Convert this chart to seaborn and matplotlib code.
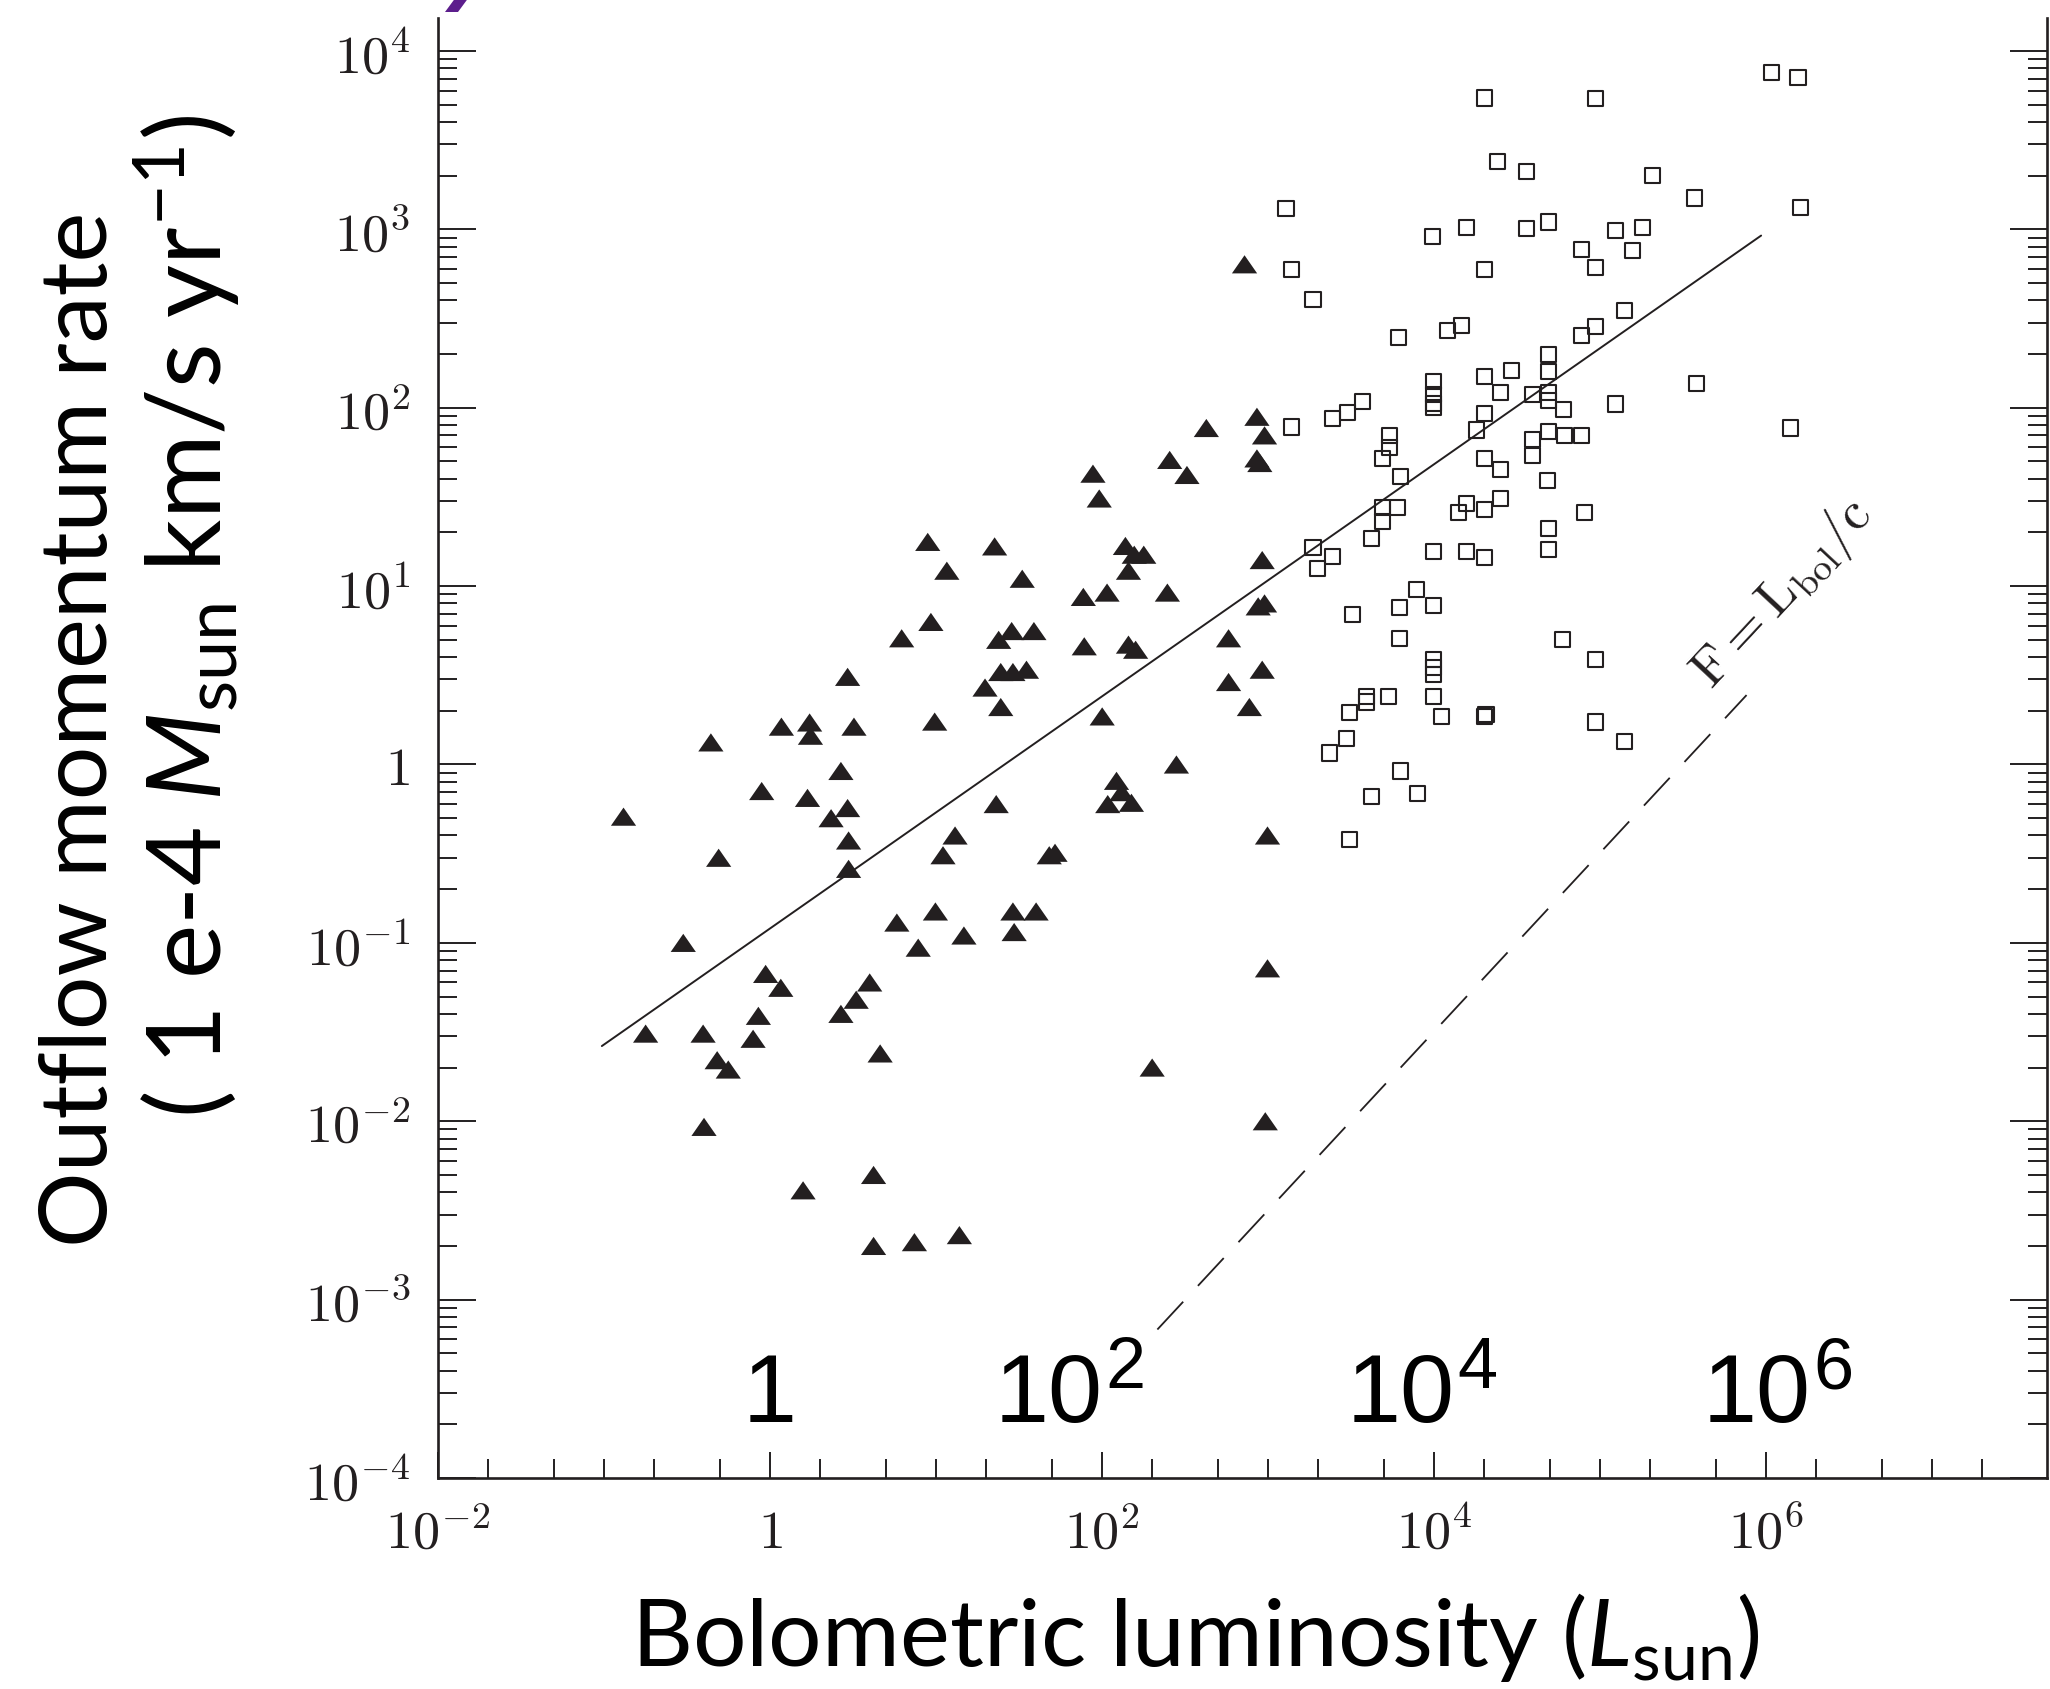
import numpy as np
import matplotlib
matplotlib.use("Agg")
import matplotlib.pyplot as plt
import matplotlib.transforms as mtransforms
from matplotlib.markers import MarkerStyle
from matplotlib.path import Path
from matplotlib.patches import Polygon
from matplotlib.ticker import FixedLocator, NullFormatter
import seaborn as sns

# ---------------- data ----------------
# Low-mass sources (filled triangles): L_bol [L_sun], momentum rate
tri_L = [0.131, 0.178, 0.30, 0.395, 0.40, 0.44, 0.48, 0.49, 0.56, 0.79,
         0.85, 0.89, 0.94, 1.16, 1.17, 1.58, 1.68, 1.73, 1.75, 2.33,
         2.67, 2.67, 2.93, 2.93, 2.97, 2.97, 3.2, 3.3, 3.98, 4.2,
         4.2, 4.6, 5.8, 6.2, 7.4, 7.8, 8.9, 9.3, 9.8, 9.9,
         11, 11.6, 13, 13.8, 14.7, 22.5, 19.7, 23, 23.8, 24.5,
         24.5, 28.5, 29, 29, 29.5, 33, 35, 38.8, 40, 48,
         52, 77, 78, 88, 96, 100, 107, 108, 122, 131,
         138, 144, 144, 150, 156, 159, 178, 200, 247, 255,
         280, 324, 424, 577, 577, 720, 770, 855, 855, 870,
         920, 890, 920, 950, 950, 990, 990, 960]
tri_P = [0.51, 0.031, 0.10, 0.031, 0.0093, 1.33, 0.022, 0.30, 0.0195, 0.029,
         0.039, 0.71, 0.067, 0.056, 1.63, 0.0041, 0.65, 1.72, 1.45, 0.50,
         0.92, 0.040, 3.1, 0.57, 0.375, 0.26, 1.63, 0.048, 0.060, 0.0050,
         0.0020, 0.024, 0.13, 5.1, 0.0021, 0.094, 17.7, 6.3, 1.74, 0.15,
         0.31, 12.2, 0.40, 0.0023, 0.11, 16.7, 2.7, 0.60, 5.0, 3.3,
         2.1, 5.6, 3.3, 0.15, 0.115, 11, 3.4, 5.6, 0.15, 0.31,
         0.32, 8.7, 4.6, 42.7, 31, 1.86, 9.2, 0.60, 0.81, 0.70,
         16.8, 12.2, 4.7, 0.61, 15, 4.4, 15, 0.020, 9.2, 51,
         1.0, 42, 77, 5.1, 2.9, 637, 2.1, 89, 52, 7.7,
         14, 49, 3.4, 8.0, 70, 0.40, 0.072, 0.010]

# High-mass sources (open squares)
sq_L = [1280, 1380, 1860, 1380, 2450, 3000, 3700, 5400, 5400, 4900,
        6300, 4900, 6000, 4900, 4200, 1860, 2450, 1980, 3200, 6200,
        7800, 6200, 3900, 3900, 5300, 3100, 2950, 2350, 6300, 7900,
        4200, 3100, 6100, 9800, 9900, 9900, 9900, 9900, 9900, 9900,
        9900, 9900, 9900, 9900, 11000, 12000, 14500, 15700, 20000, 14000,
        15600, 20000, 25000, 15600, 20000, 18000, 20000, 25000, 29000, 20000,
        20000, 25000, 20000, 20500, 1.08e6, 1.55e6, 93000, 20000, 24000, 36000,
        2.07e5, 3.7e5, 1.6e6, 36000, 49000, 1.23e5, 1.8e5, 77000, 94000, 1.57e5,
        1.4e5, 94000, 77000, 49000, 49000, 39000, 49000, 49000, 60000, 1.23e5,
        3.8e5, 1.4e6, 49000, 61000, 77000, 39000, 39000, 48000, 80000, 49000,
        49000, 59000, 94000, 94000, 1.4e5]
sq_P = [1315, 594, 403, 78, 87, 94, 108, 70, 60, 52,
        41, 27.5, 27.5, 23, 18.6, 16.5, 14.7, 12.6, 6.9, 7.6,
        9.6, 5.1, 2.4, 2.24, 2.4, 1.95, 1.40, 1.16, 0.92, 0.69,
        0.66, 0.38, 247, 908, 140, 118, 106, 100, 15.6, 7.8,
        3.9, 3.5, 3.2, 2.4, 1.85, 270, 290, 1020, 594, 26,
        29, 27, 31, 15.6, 14.5, 75, 150, 122, 162, 93,
        52, 45, 1.85, 1.9, 7600, 7100, 5400, 5450, 2400, 2100,
        2000, 1500, 1330, 1010, 1100, 990, 1020, 770, 610, 760,
        350, 285, 255, 200, 160, 118, 122, 110, 98, 105,
        137, 77, 74, 70, 70, 66, 54, 39, 26, 21,
        16, 5.0, 3.9, 1.73, 1.35]

# Best-fit relation (solid) and F = L_bol/c limit (dashed)
fit_L = [0.097, 9.3e5]
fit_P = [0.0264, 923]
lim_L = [215, 7.6e5]
lim_P = [6.8e-4, 2.45]

# Axis ticks / labels
x_major = [1e-2, 1, 1e2, 1e4, 1e6]
x_major_labels = [r"$10^{-2}$", r"$1$", r"$10^{2}$", r"$10^{4}$", r"$10^{6}$"]
y_major = [1e-4, 1e-3, 1e-2, 1e-1, 1, 1e1, 1e2, 1e3, 1e4]
y_major_labels = [r"$10^{-4}$", r"$10^{-3}$", r"$10^{-2}$", r"$10^{-1}$", r"$1$",
                  r"$10^{1}$", r"$10^{2}$", r"$10^{3}$", r"$10^{4}$"]

# Large overlay numbers inside the plot: (base, exponent, x-position)
overlay_base = ["1", "10", "10", "10"]
overlay_exp = ["", "2", "4", "6"]
overlay_x = [1.0, 100, 1.32e4, 1.85e6]

INK = "#231f20"

# ---------------- style ----------------
sns.set_style("white")
plt.rcParams.update({
    "font.family": ["Lato", "DejaVu Sans"],
    "mathtext.fontset": "cm",
    "mathtext.rm": "Lato",
    "mathtext.it": "Lato:italic",
    "mathtext.bf": "Lato:bold",
    "mathtext.sf": "Lato",
    "axes.unicode_minus": True,
})

fig = plt.figure(figsize=(20.5, 16.9), dpi=100)
fig.patch.set_facecolor("white")
ax = fig.add_axes([0.21366, 0.12485, 0.78488, 0.86391])
ax.set_facecolor("white")

tri_marker = MarkerStyle(Path([(-1, -0.72), (1, -0.72), (0, 0.72), (-1, -0.72)],
                              [Path.MOVETO, Path.LINETO, Path.LINETO, Path.CLOSEPOLY]))

sns.lineplot(x=fit_L, y=fit_P, ax=ax, color=INK, lw=1.4, estimator=None, sort=False)
sns.lineplot(x=lim_L, y=lim_P, ax=ax, color=INK, lw=1.3, estimator=None, sort=False,
             linestyle=(0, (21, 12)))
sns.scatterplot(x=tri_L, y=tri_P, ax=ax, marker=tri_marker, s=330, color=INK,
                edgecolor="none", linewidth=0, zorder=3)
sns.scatterplot(x=sq_L, y=sq_P, ax=ax, marker="s", s=118, color=INK,
                facecolor="none", edgecolor=INK, linewidth=1.5, zorder=3)

ax.set_xscale("log")
ax.set_yscale("log")
ax.set_xlim(1e-2, 4.9e7)
ax.set_ylim(1e-4, 10 ** 4.185)

x_minor = []
for n in range(-2, 8):
    for m in (1, 2, 5):
        v = m * 10.0 ** n
        if v not in x_major:
            x_minor.append(v)
y_minor = [m * 10.0 ** n for n in range(-4, 5) for m in range(2, 10)]

ax.set_xticks(x_major, labels=x_major_labels)
ax.xaxis.set_minor_locator(FixedLocator(x_minor))
ax.xaxis.set_minor_formatter(NullFormatter())
ax.set_yticks(y_major, labels=y_major_labels)
ax.yaxis.set_minor_locator(FixedLocator(y_minor))
ax.yaxis.set_minor_formatter(NullFormatter())

ax.tick_params(axis="x", which="major", direction="in", length=19, width=1.4,
               pad=50, labelsize=39, colors=INK, bottom=True, top=False)
ax.tick_params(axis="x", which="minor", direction="in", length=13.5, width=1.4,
               colors=INK, bottom=True, top=False)
ax.tick_params(axis="y", which="major", direction="in", length=27, width=1.4,
               pad=20, labelsize=39, colors=INK, left=True, right=True)
ax.tick_params(axis="y", which="minor", direction="in", length=14, width=1.4,
               colors=INK, left=True, right=True)
for lbl in ax.get_xticklabels():
    lbl.set_verticalalignment("baseline")

for side in ("left", "right", "bottom"):
    ax.spines[side].set_linewidth(1.9)
    ax.spines[side].set_color(INK)
ax.spines["top"].set_visible(False)

# F = L_bol / c annotation
ax.text(1.25e6, 9.2, r"$\mathrm{F{=}L_{bol}/c}$", rotation=47, rotation_mode="anchor",
        ha="center", va="center", fontsize=39, color=INK, math_fontfamily="cm")

# Large overlay numbers
blend = mtransforms.blended_transform_factory(ax.transData, ax.transAxes)
for base, ex, xv in zip(overlay_base, overlay_exp, overlay_x):
    if ex == "":
        ax.text(xv, 0.039, base, transform=blend, ha="center", va="baseline",
                fontsize=70, family="Liberation Sans", color="black")
    else:
        ax.text(xv, 0.039, base, transform=blend, ha="right", va="baseline",
                fontsize=70, family="Liberation Sans", color="black")
        ax.text(xv * 1.04, 0.062, ex, transform=blend, ha="left", va="baseline",
                fontsize=52, family="Liberation Sans", color="black")

# Axis titles (slide-style)
fig.text(1195 / 2050, 1 - 1666 / 1690, r"Bolometric luminosity ($L_{\mathrm{sun}}$)",
         ha="center", va="baseline", fontsize=68, color="black", math_fontfamily="custom")
fig.text(107 / 2050, 1 - 729 / 1690, "Outflow momentum rate", rotation=90,
         rotation_mode="anchor", ha="center", va="baseline", fontsize=68, color="black")
fig.text(222 / 2050, 1 - 617 / 1690, r"( 1 e-4 $M_{\mathrm{sun}}$ km/s yr$^{-1}$)",
         rotation=90, rotation_mode="anchor", ha="center", va="baseline",
         fontsize=74, color="black", math_fontfamily="custom")

# fragment of slide title at the top edge
frag = [(445, 13), (458, 13), (472, -6), (459, -6)]
fig.patches.append(Polygon([(px / 2050, 1 - py / 1690) for px, py in frag],
                           closed=True, transform=fig.transFigure,
                           facecolor="#5c1e8c", edgecolor="none"))

fig.savefig("out.png", dpi=100, facecolor="white")
